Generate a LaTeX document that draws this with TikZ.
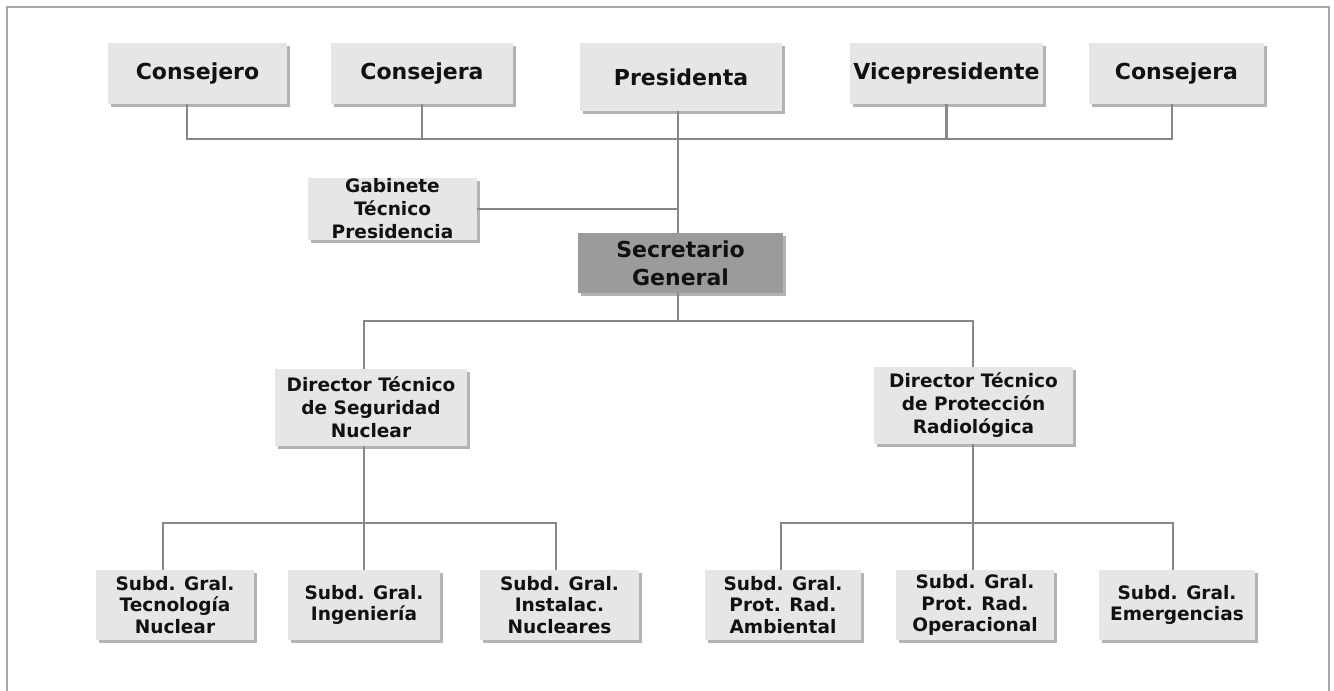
\documentclass[tikz,border=0pt]{standalone}
\usepackage{fontspec}
\setmainfont{DejaVu Sans}
\usetikzlibrary{shadows}
\newdimen\pxu \pxu=0.75pt
\definecolor{boxfill}{HTML}{E6E6E6}
\definecolor{secfill}{HTML}{9B9B9B}
\definecolor{linecol}{HTML}{878787}
\definecolor{framecol}{HTML}{A8A8A8}
\definecolor{txt}{HTML}{111111}
\tikzset{
  orgbox/.style={fill=boxfill, draw=none, inner sep=0pt, align=center, text=txt,
    drop shadow={shadow xshift=2.5\pxu, shadow yshift=-3\pxu, fill=black!35, opacity=0.85}},
  topfont/.style={font=\fontsize{16.5}{20}\selectfont\bfseries},
  dirfont/.style={font=\fontsize{13.9}{17.2}\selectfont\bfseries},
  subfont/.style={font=\fontsize{13.9}{16.4}\selectfont\bfseries},
  conn/.style={draw=linecol, line width=2.5\pxu},
}
\begin{document}
\begin{tikzpicture}[x=0.75pt, y=-0.75pt]
\useasboundingbox (0,0) rectangle (1334,690);
\begin{scope}
\clip (0,0) rectangle (1334,690);
\draw[framecol, line width=1.5\pxu] (7,7) rectangle (1329,720);
\end{scope}

% top row
\node[orgbox, topfont, minimum width=179\pxu, minimum height=61\pxu] (cons1) at (197.5,73.5) {Consejero};
\node[orgbox, topfont, minimum width=182\pxu, minimum height=61\pxu] (cons2) at (422,73.5) {Consejera};
\node[orgbox, topfont, minimum width=202\pxu, minimum height=68\pxu] (pres) at (681,77) {Presidenta};
\node[orgbox, topfont, minimum width=193\pxu, minimum height=61\pxu] (vice) at (946.5,73.5) {Vicepresidente};
\node[orgbox, topfont, minimum width=175\pxu, minimum height=61\pxu] (cons3) at (1176.5,73.5) {Consejera};

% middle
\node[orgbox, dirfont, minimum width=169\pxu, minimum height=62\pxu] (gab) at (392.5,209) {Gabinete\\Técnico\\Presidencia};
\node[orgbox, topfont, fill=secfill, font=\fontsize{16.5}{21}\selectfont\bfseries, minimum width=205\pxu, minimum height=60\pxu] (sec) at (680.5,263) {Secretario\\General};

\node[orgbox, dirfont, minimum width=192\pxu, minimum height=77\pxu] (dir1) at (371,407.5) {Director Técnico\\de Seguridad\\Nuclear};
\node[orgbox, dirfont, minimum width=199\pxu, minimum height=77\pxu] (dir2) at (973.5,405.5) {Director Técnico\\de Protección\\Radiológica};

% bottom row
\node[orgbox, subfont, minimum width=158\pxu, minimum height=70\pxu] (s1) at (175,605) {Subd. Gral.\\Tecnología\\Nuclear};
\node[orgbox, subfont, minimum width=152\pxu, minimum height=70\pxu] (s2) at (364,605) {Subd. Gral.\\Ingeniería};
\node[orgbox, subfont, minimum width=159\pxu, minimum height=70\pxu] (s3) at (559.5,605) {Subd. Gral.\\Instalac.\\Nucleares};
\node[orgbox, subfont, minimum width=156\pxu, minimum height=70\pxu] (s4) at (783,605) {Subd. Gral.\\Prot. Rad.\\Ambiental};
\node[orgbox, subfont, minimum width=158\pxu, minimum height=70\pxu] (s5) at (975,605) {Subd. Gral.\\Prot. Rad.\\Operacional};
\node[orgbox, subfont, minimum width=156\pxu, minimum height=70\pxu] (s6) at (1177,605) {Subd. Gral.\\Emergencias};

% bus coordinates
\coordinate (b1) at (187,139);
\coordinate (b5) at (1172,139);
\coordinate (sp) at (678,139);
\coordinate (h2l) at (364,321);
\coordinate (h2r) at (973,321);
\coordinate (d1a) at (163,523);
\coordinate (d1b) at (556,523);
\coordinate (d2a) at (781,523);
\coordinate (d2b) at (1173,523);

% connectors
\draw[conn] (cons1.south -| b1) -- (b1) -- (b5) -- (cons3.south -| b5);
\draw[conn] (cons2.south) -- (cons2.south |- b1);
\draw[conn] (vice.south) -- (vice.south |- b1);
\draw[conn] (pres.south -| sp) -- (sec.north -| sp);
\draw[conn] (gab.east) -- (gab.east -| sp);
\draw[conn] (sec.south -| sp) -- (sp |- h2l);
\draw[conn] (dir1.north -| h2l) -- (h2l) -- (h2r) -- (dir2.north -| h2r);
\draw[conn] (dir1.south -| h2l) -- (s2.north -| h2l);
\draw[conn] (s1.north -| d1a) -- (d1a) -- (d1b) -- (s3.north -| d1b);
\draw[conn] (dir2.south -| h2r) -- (s5.north -| h2r);
\draw[conn] (s4.north -| d2a) -- (d2a) -- (d2b) -- (s6.north -| d2b);
\end{tikzpicture}
\end{document}
